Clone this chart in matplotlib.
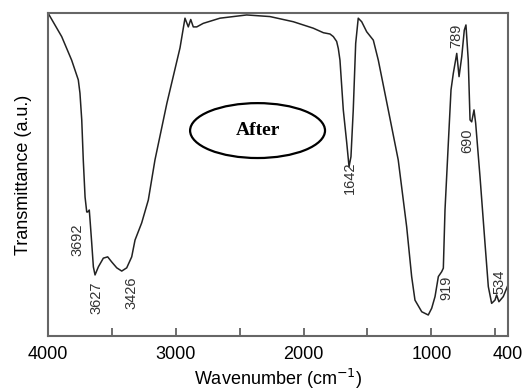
"""
FTIR spectrum after treatment
"""
import numpy as np
from matplotlib import pyplot as plt
from matplotlib.patches import Ellipse

# wavenumber (cm-1) and transmittance (a.u.)
wavenumber = [4000, 3893, 3815, 3763, 3750, 3736, 3724, 3710, 3697, 3689,
              3677, 3671, 3658, 3645, 3632, 3606, 3567, 3533, 3501, 3462,
              3423, 3384, 3345, 3319, 3267, 3215, 3163, 3070, 2967, 2928,
              2902, 2883, 2863, 2836, 2785, 2654, 2445, 2263, 2080, 1924,
              1845, 1793, 1767, 1741, 1728, 1715, 1689, 1662, 1644, 1629,
              1611, 1592, 1572, 1545, 1506, 1454, 1415, 1337, 1259, 1193,
              1154, 1128, 1075, 1024, 997, 971, 945, 919, 906, 893,
              867, 846, 828, 801, 783, 762, 742, 729, 711, 697,
              684, 666, 653, 619, 580, 554, 528, 502, 489, 471,
              437, 410, 400]
transmittance = [100, 92.7, 85.4, 79.3, 75.2, 66.9, 54.5, 43.0, 38.4, 38.4,
                 39.0, 35.9, 28.8, 21.4, 18.9, 21.4, 24.1, 24.5, 22.9, 21.1,
                 20.1, 21.1, 24.5, 29.7, 35.0, 42.1, 54.5, 72.0, 89.2, 98.4,
                 95.7, 98.0, 95.7, 95.7, 96.8, 98.4, 99.4, 98.9, 97.3, 95.3,
                 93.9, 93.5, 92.7, 91.2, 89.0, 85.4, 70.0, 59.8, 52.4, 55.5,
                 70.0, 90.6, 98.4, 97.3, 94.2, 91.6, 85.4, 70.0, 54.5, 33.8,
                 18.4, 11.1, 7.5, 6.5, 8.6, 12.2, 18.4, 19.9, 21.0, 39.0,
                 59.7, 76.2, 81.3, 87.5, 80.3, 86.5, 94.7, 96.3, 85.4, 66.9,
                 66.3, 70.0, 65.9, 49.3, 28.7, 15.3, 10.1, 11.1, 12.7, 10.6,
                 12.2, 14.8, 15.8]

# peak labels: text, x, y
peak_text = ['3692', '3627', '3426', '1642', '789', '690', '919', '534']
peak_x = [3773, 3617, 3350, 1637, 805, 715, 880, 470]
peak_y = [29.7, 11.8, 13.3, 48.9, 92.8, 60.5, 14.9, 16.7]

xticks = [4000, 3000, 2000, 1000, 400]
minor_ticks = [3500, 2500, 1500, 500]

plt.rcParams['font.family'] = ['Liberation Sans', 'DejaVu Sans']

fig = plt.figure(figsize=(5.23, 3.92), dpi=100)
ax = fig.add_axes([0.0918, 0.1429, 0.8795, 0.8239])

ax.plot(wavenumber, transmittance, color='#222222', lw=1.1)

for t, x, y in zip(peak_text, peak_x, peak_y):
    ax.text(x, y, t, rotation=90, ha='center', va='center',
            fontsize=10.5, color='#333333')

ell = Ellipse((2360, 63.6), 1056, 17.0, fill=False, ec='black', lw=1.6)
ax.add_patch(ell)
ax.text(2360, 63.6, 'After', ha='center', va='center', fontsize=14,
        fontweight='bold', family='Liberation Serif')

ax.set_xlim(4000, 400)
ax.set_ylim(0, 100)
ax.set_xticks(xticks)
ax.set_xticks(minor_ticks, minor=True)
ax.set_yticks([])
ax.tick_params(axis='x', which='both', direction='in', length=6,
               width=1.2, color='#555555', labelsize=13, pad=7)

for s in ax.spines.values():
    s.set_color('#666666')
    s.set_linewidth(1.5)

ax.set_xlabel('Wavenumber (cm$^{-1}$)', fontsize=13, labelpad=3)
ax.set_ylabel('Transmittance (a.u.)', fontsize=13, labelpad=11.5)

plt.savefig('out.png', dpi=100)
